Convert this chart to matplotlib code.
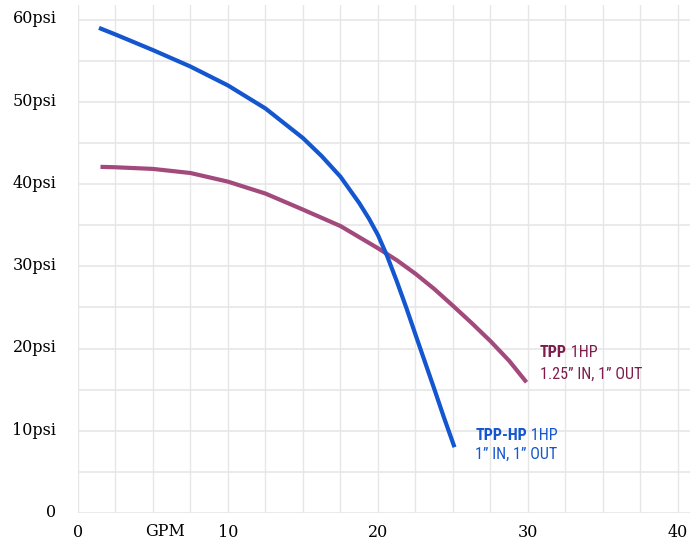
import matplotlib
matplotlib.use("Agg")
import matplotlib.pyplot as plt
from matplotlib import font_manager
from matplotlib.transforms import ScaledTranslation

# pump curves (GPM, psi)
hp_gpm = [1.4, 2.5, 5.0, 7.5, 10.0, 12.5, 15.0, 16.25, 17.5, 18.75, 19.4, 20.0,
          20.6, 21.25, 21.9, 22.5, 23.75, 24.4, 25.1]
hp_psi = [59.0, 58.2, 56.3, 54.3, 52.0, 49.2, 45.6, 43.4, 40.9, 37.7, 35.8, 33.8,
          31.3, 28.2, 24.9, 21.7, 15.1, 11.6, 8.0]

tpp_gpm = [1.5, 2.5, 5.0, 7.5, 10.0, 12.5, 15.0, 17.5, 20.0, 21.25, 22.5, 23.75,
           25.0, 26.25, 27.5, 28.75, 29.9]
tpp_psi = [42.1, 42.05, 41.85, 41.35, 40.3, 38.85, 36.9, 34.9, 32.2, 30.75, 29.1,
           27.25, 25.2, 23.1, 20.9, 18.5, 15.9]

x_ticks = [0, 10, 20, 30, 40]
y_ticks = [0, 10, 20, 30, 40, 50, 60]
y_labels = ["0", "10psi", "20psi", "30psi", "40psi", "50psi", "60psi"]

BLUE = "#1356cf"
PURPLE = "#a24a7b"
PURPLE_TXT = "#7c1d4c"
GRID = "#e6e6e6"


def pick_font(names):
    for n in names:
        try:
            font_manager.findfont(font_manager.FontProperties(family=n),
                                  fallback_to_default=False)
            return n
        except ValueError:
            pass
    return "DejaVu Sans"


nar = pick_font(["Roboto Condensed", "Liberation Sans Narrow", "Roboto"])
nsize = 10 if nar == "Roboto" else 11.6

fig = plt.figure(figsize=(6.9, 5.42), dpi=100)
ax = fig.add_axes([0.113, 0.0535, 0.887, 0.9375])

ax.set_xlim(0, 40.8)
ax.set_ylim(0, 61.8)

# grid every 2.5 GPM / 5 psi
for gx in [i * 2.5 for i in range(17)]:
    ax.axvline(gx, color=GRID, lw=1.0, zorder=0)
for gy in [i * 5 for i in range(13)]:
    ax.axhline(gy, color=GRID, lw=1.2, zorder=0)

ax.plot(hp_gpm, hp_psi, color=BLUE, lw=3, solid_capstyle="butt",
        solid_joinstyle="round", zorder=3)
ax.plot(tpp_gpm, tpp_psi, color=PURPLE, lw=3, solid_capstyle="butt",
        solid_joinstyle="round", zorder=2)

for s in ax.spines.values():
    s.set_visible(False)

ax.set_xticks(x_ticks)
ax.set_xticklabels([str(v) for v in x_ticks], family="DejaVu Serif", fontsize=11.5)
ax.set_yticks(y_ticks)
ax.set_yticklabels(y_labels, family="DejaVu Serif", fontsize=11.5)
ax.tick_params(axis="both", length=0)
ax.tick_params(axis="x", pad=8)
ax.tick_params(axis="y", pad=15.5)
# labels sit a little above their grid line
for lab in ax.get_yticklabels():
    lab.set_transform(lab.get_transform() + ScaledTranslation(0, 2 / 72, fig.dpi_scale_trans))

ax.text(5.8, -1.2, "GPM", family="DejaVu Serif", fontsize=11.5,
        ha="center", va="top", clip_on=False)

t1 = ax.text(30.8, 19.5, "TPP", color=PURPLE_TXT, fontsize=nsize, family=nar,
             weight="bold", va="center")
ax.annotate(" 1HP", xy=(1, 0), xycoords=t1, color=PURPLE_TXT, fontsize=nsize,
            family=nar, va="bottom")
ax.text(30.8, 16.9, "1.25\u201d IN, 1\u201d OUT", color=PURPLE_TXT, fontsize=nsize,
        family=nar, va="center")

t2 = ax.text(26.5, 9.4, "TPP-HP", color=BLUE, fontsize=nsize, family=nar,
             weight="bold", va="center")
ax.annotate(" 1HP", xy=(1, 0), xycoords=t2, color=BLUE, fontsize=nsize,
            family=nar, va="bottom")
ax.text(26.5, 7.1, "1\u201d IN, 1\u201d OUT", color=BLUE, fontsize=nsize,
        family=nar, va="center")

fig.savefig("out.png", dpi=100)
